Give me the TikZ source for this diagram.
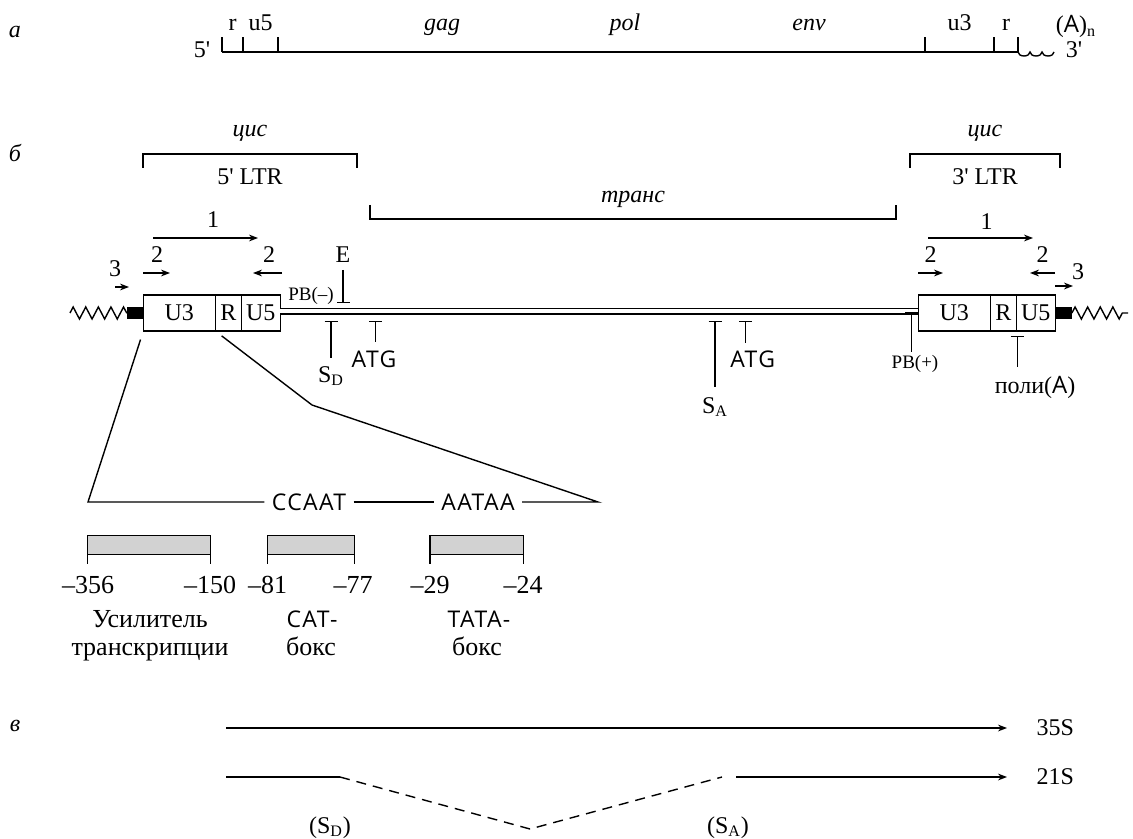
\documentclass[tikz,border=0pt]{standalone}
\usepackage{fontspec}
\setmainfont{Liberation Serif}
\newfontfamily\seqfont[LetterSpace=6]{Open Sans}
\usetikzlibrary{arrows.meta,positioning,decorations.pathmorphing}

\begin{document}
\begin{tikzpicture}[x=0.5pt,y=-0.5pt,>={Stealth[length=4.5pt,width=3.4pt]}, line width=0.7pt,
        font=\fontsize{12}{14.5}\selectfont]
    \tikzstyle{seg} = [draw, rectangle, minimum height=18pt, inner sep=0pt, outer sep=0pt]
    \tikzstyle{blk} = [fill=black, rectangle, minimum width=8.3pt, minimum height=6pt, inner sep=0pt, outer sep=0pt]
    \tikzstyle{gbox} = [draw, fill=gray!35, rectangle, minimum height=9.3pt, inner sep=0pt, outer sep=0pt]
    \tikzstyle{lbl} = [anchor=base, inner sep=0pt]
    \tikzstyle{itl} = [font=\fontsize{12}{14.5}\selectfont\itshape]
    \tikzstyle{seq} = [font=\fontsize{11.5}{14}\selectfont\seqfont]
    \tikzstyle{pb} = [font=\fontsize{9.5}{11}\selectfont]
    \tikzstyle{big} = [font=\fontsize{13}{15}\selectfont]
    \tikzstyle{tbar} = [{Bar[width=6.5pt]}-]
    \tikzstyle{wig} = [decorate, decoration={zigzag, segment length=6.3pt, amplitude=3pt}]

    \useasboundingbox (0,0) rectangle (1133,839);

    % а: РНК вируса
    \node[lbl, itl] (la) at (15,38) {а};
    \coordinate (r5) at (222,52);
    \coordinate (r3) at (1018,52);
    \draw (r5) -- (r3);
    \foreach \x in {222,243,278,925,994,1018}
        \draw (\x,52) -- (\x,37);
    \node[lbl] (t5) at (202,58) {5\textquotesingle};
    \node[lbl] (tr1) at (232.5,31) {r};
    \node[lbl] (tu5) at (260.5,31) {u5};
    \node[lbl, itl] (tgag) at (442,31) {gag};
    \node[lbl, itl] (tpol) at (625,31) {pol};
    \node[lbl, itl] (tenv) at (809,31) {env};
    \node[lbl] (tu3) at (959.5,31) {u3};
    \node[lbl] (tr2) at (1006,31) {r};
    \node[lbl] (tpa) at (1076,33) {({\seqfont A})\textsubscript{n}};
    \draw (r3) arc[start angle=180, end angle=360, x radius=3pt, y radius=2pt]
               arc[start angle=180, end angle=360, x radius=3pt, y radius=2pt]
               arc[start angle=180, end angle=360, x radius=3pt, y radius=2pt];
    \node[lbl] (t3) at (1074,58) {3\textquotesingle};

    % б: провирус
    \node[lbl, itl] (lb) at (15,162) {б};
    \coordinate (c5a) at (143,168);
    \coordinate (c5b) at (357,168);
    \draw (c5a) -- ++(0,-14) -| (c5b);
    \node[lbl, itl] (cis5) at (250,137) {цис};
    \node[lbl] (ltr5) at (250,185) {5\textquotesingle{} LTR};
    \coordinate (c3a) at (910,168);
    \coordinate (c3b) at (1060,168);
    \draw (c3a) -- ++(0,-14) -| (c3b);
    \node[lbl, itl] (cis3) at (985,137) {цис};
    \node[lbl] (ltr3) at (985,185) {3\textquotesingle{} LTR};
    \coordinate (tra) at (370,205);
    \coordinate (trb) at (896,205);
    \draw (tra) -- ++(0,14) -| (trb);
    \node[lbl, itl] (trans) at (633,203) {транс};

    % LTR слева
    \node[seg, minimum width=36pt] (lu3) at (179.3,313) {U3};
    \node[seg, minimum width=13pt, right=0pt of lu3] (lr) {R};
    \node[seg, minimum width=19.5pt, right=0pt of lr] (lu5) {U5};
    \node[blk, left=0pt of lu3] (lblk) {};
    \coordinate (lz) at (70,313);
    \draw[wig] (lz) -- (lblk.west);

    % LTR справа
    \node[seg, minimum width=36pt] (ru3) at (954.3,313) {U3};
    \node[seg, minimum width=13pt, right=0pt of ru3] (rr) {R};
    \node[seg, minimum width=19.5pt, right=0pt of rr] (ru5) {U5};
    \node[blk, right=0pt of ru5] (rblk) {};
    \coordinate (rz) at (1128,313);
    \draw[wig] (rblk.east) -- (rz);

    \draw[double, double distance=2pt] ([yshift=0.75pt]lu5.east) -- ([yshift=0.75pt]ru3.west);

    % праймеры слева
    \coordinate (p1a) at (153,238);
    \coordinate (p1b) at (258,238);
    \draw[->] (p1a) -- (p1b);
    \node[lbl] (n1a) at (213,228) {1};
    \coordinate (p2a) at (143,273);
    \coordinate (p2b) at (170,273);
    \draw[->] (p2a) -- (p2b);
    \node[lbl] (n2a) at (157,263) {2};
    \coordinate (p2c) at (282,273);
    \coordinate (p2d) at (253,273);
    \draw[->] (p2c) -- (p2d);
    \node[lbl] (n2b) at (269,263) {2};
    \coordinate (p3a) at (115,287);
    \coordinate (p3b) at (129,287);
    \draw[->] (p3a) -- (p3b);
    \node[lbl] (n3a) at (115,277) {3};

    % праймеры справа
    \coordinate (q1a) at (928,238);
    \coordinate (q1b) at (1033,238);
    \draw[->] (q1a) -- (q1b);
    \node[lbl] (n1b) at (986.7,230) {1};
    \coordinate (q2a) at (918,273);
    \coordinate (q2b) at (943,273);
    \draw[->] (q2a) -- (q2b);
    \node[lbl] (n2c) at (930.7,263) {2};
    \coordinate (q2c) at (1055,273);
    \coordinate (q2d) at (1030,273);
    \draw[->] (q2c) -- (q2d);
    \node[lbl] (n2d) at (1042.7,263) {2};
    \coordinate (q3a) at (1055,286);
    \coordinate (q3b) at (1073,286);
    \draw[->] (q3a) -- (q3b);
    \node[lbl] (n3b) at (1078,280) {3};

    % сайты
    \coordinate (ea) at (343,270);
    \coordinate (eb) at (343,303);
    \draw[-{Bar[width=6.5pt]}] (ea) -- (eb);
    \node[lbl] (le) at (343,263) {E};
    \node[lbl, pb] (lpbm) at (311,300) {PB(–)};
    \coordinate (sd) at (331,321);
    \draw[tbar] (sd) -- ++(0,37);
    \node[lbl] (lsd) at (331,382) {S\textsubscript{D}};
    \coordinate (atg1) at (375.7,321);
    \draw[tbar] (atg1) -- ++(0,21);
    \node[lbl, seq] (latg1) at (374,367) {ATG};
    \coordinate (sa) at (715,321);
    \draw[tbar] (sa) -- ++(0,66);
    \node[lbl] (lsa) at (715,413) {S\textsubscript{A}};
    \coordinate (atg2) at (745.7,321);
    \draw[tbar] (atg2) -- ++(0,22);
    \node[lbl, seq] (latg2) at (752.7,367) {ATG};
    \coordinate (pbp) at (911.7,312);
    \draw[tbar] (pbp) -- ++(0,40);
    \node[lbl, pb] (lpbp) at (915,368) {PB(+)};
    \coordinate (pa) at (1017.3,336);
    \draw[tbar] (pa) -- ++(0,31);
    \node[lbl] (lpa) at (1035,393) {поли({\seqfont A})};

    % U3 в развернутом виде
    \node[seq] (ccaat) at (309,502) {CCAAT};
    \node[seq] (aataa) at (478,502) {AATAA};
    \coordinate (ebl) at (88,502);
    \coordinate (ebr) at (598,502);
    \coordinate (ek) at (312,405);
    \draw[shorten <=4.5pt] (lu3.south west) -- (ebl) -- (ccaat);
    \draw (ccaat) -- (aataa);
    \draw[shorten >=4pt] (aataa) -- (ebr) -- (ek) -- (lr.south west);

    \node[gbox, minimum width=61.5pt] (enh) at (149.2,545) {};
    \node[gbox, minimum width=43.5pt] (cat) at (310.8,545) {};
    \node[gbox, minimum width=46.65pt] (tata) at (476.65,545) {};
    \foreach \b in {enh,cat,tata} {
        \draw (\b.south west) -- ++(0,9.7);
        \draw (\b.south east) -- ++(0,9.7);
    }
    \node[lbl, big] (m356) at (88,593) {–356};
    \node[lbl, big] (m150) at (210,593) {–150};
    \node[lbl, big] (m81) at (267.5,593) {–81};
    \node[lbl, big] (m77) at (353,593) {–77};
    \node[lbl, big] (m29) at (430,593) {–29};
    \node[lbl, big] (m24) at (523,593) {–24};
    \node[lbl, big] (lenh1) at (150,627) {Усилитель};
    \node[lbl, big] (lenh2) at (150,655) {транскрипции};
    \node[lbl, seq] (lcat1) at (312,627) {CAT-};
    \node[lbl, big] (lcat2) at (311,655) {бокс};
    \node[lbl, seq] (ltata1) at (479,627) {TATA-};
    \node[lbl, big] (ltata2) at (477,655) {бокс};

    % в: транскрипты
    \node[lbl, itl] (lv) at (15,731) {в};
    \coordinate (t0) at (226,728);
    \coordinate (t1) at (1007,728);
    \draw[->] (t0) -- (t1);
    \node[anchor=west, inner sep=0pt] (l35) at (1036,728) {35S};
    \coordinate (u0) at (226,777);
    \coordinate (usd) at (340,777);
    \coordinate (uv) at (530,829);
    \coordinate (usa) at (722,777);
    \coordinate (u1) at (736,777);
    \coordinate (u2) at (1007,777);
    \draw (u0) -- (usd);
    \draw[dash pattern=on 5pt off 3.5pt] (usd) -- (uv) -- (usa);
    \draw[->] (u1) -- (u2);
    \node[anchor=west, inner sep=0pt] (l21) at (1036,777) {21S};
    \node[lbl] (lsd2) at (330,833) {(S\textsubscript{D})};
    \node[lbl] (lsa2) at (728,833) {(S\textsubscript{A})};
\end{tikzpicture}
\end{document}
